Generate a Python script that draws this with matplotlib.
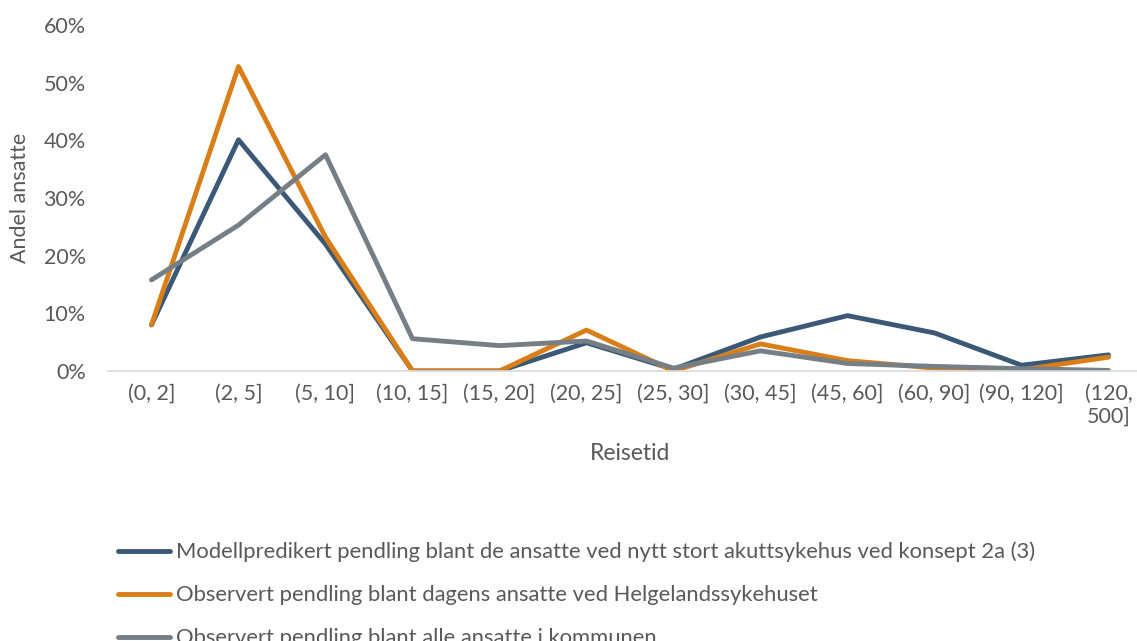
import numpy as np
import matplotlib
matplotlib.use("Agg")
import matplotlib.pyplot as plt
from matplotlib.ticker import PercentFormatter

# categories (travel time in minutes)
categories = ['(0, 2]', '(2, 5]', '(5, 10]', '(10, 15]', '(15, 20]', '(20, 25]',
              '(25, 30]', '(30, 45]', '(45, 60]', '(60, 90]', '(90, 120]', '(120,\n500]']

modell = [0.080, 0.401, 0.220, 0.000, 0.000, 0.049, 0.003, 0.059, 0.096, 0.066, 0.010, 0.028]
dagens = [0.080, 0.528, 0.232, 0.000, 0.000, 0.071, 0.000, 0.047, 0.018, 0.005, 0.002, 0.024]
kommunen = [0.158, 0.253, 0.375, 0.056, 0.044, 0.052, 0.005, 0.035, 0.013, 0.008, 0.004, 0.001]

labels = ['Modellpredikert pendling blant de ansatte ved nytt stort akuttsykehus ved konsept 2a (3)',
          'Observert pendling blant dagens ansatte ved Helgelandssykehuset',
          'Observert pendling blant alle ansatte i kommunen']
colors = ['#3B5877', '#D97F1A', '#767F86']

plt.rcParams['font.family'] = ['Lato', 'DejaVu Sans']
text_color = '#595959'

fig = plt.figure(figsize=(11.37, 6.41), dpi=100)
ax = fig.add_axes([108/1137, 1 - 371/641, (1152 - 108)/1137, (371 - 25)/641])

x = np.arange(len(categories))
for vals, lab, col in zip([modell, dagens, kommunen], labels, colors):
    ax.plot(x, vals, color=col, lw=3.5, label=lab, solid_joinstyle='round', solid_capstyle='round')

ax.set_xlim(-0.5, len(categories) - 0.5)
ax.set_ylim(0, 0.6)
ax.set_yticks(np.arange(0, 0.61, 0.1))
ax.yaxis.set_major_formatter(PercentFormatter(1.0, decimals=0))
ax.set_xticks(x)
ax.set_xticklabels(categories)
ax.tick_params(axis='x', length=0, labelsize=15.5, colors=text_color, pad=9)
ax.tick_params(axis='y', length=0, labelsize=15.5, colors=text_color, pad=16)

for s in ['top', 'right', 'left']:
    ax.spines[s].set_visible(False)
ax.spines['bottom'].set_color('#D9D9D9')
ax.spines['bottom'].set_linewidth(1.2)

ax.set_xlabel('Reisetid', fontsize=16.5, color=text_color, labelpad=12)
ax.set_ylabel('Andel ansatte', fontsize=15.5, color=text_color, labelpad=10)

# last legend row is cut by the bottom edge, as in the original
fig.legend(loc='upper left', bbox_to_anchor=(98/1137, 1 - 522/641), frameon=False,
           fontsize=15.8, handlelength=2.4, handletextpad=0.25, labelspacing=1.05,
           labelcolor=text_color)

fig.savefig('out.png', dpi=100)
